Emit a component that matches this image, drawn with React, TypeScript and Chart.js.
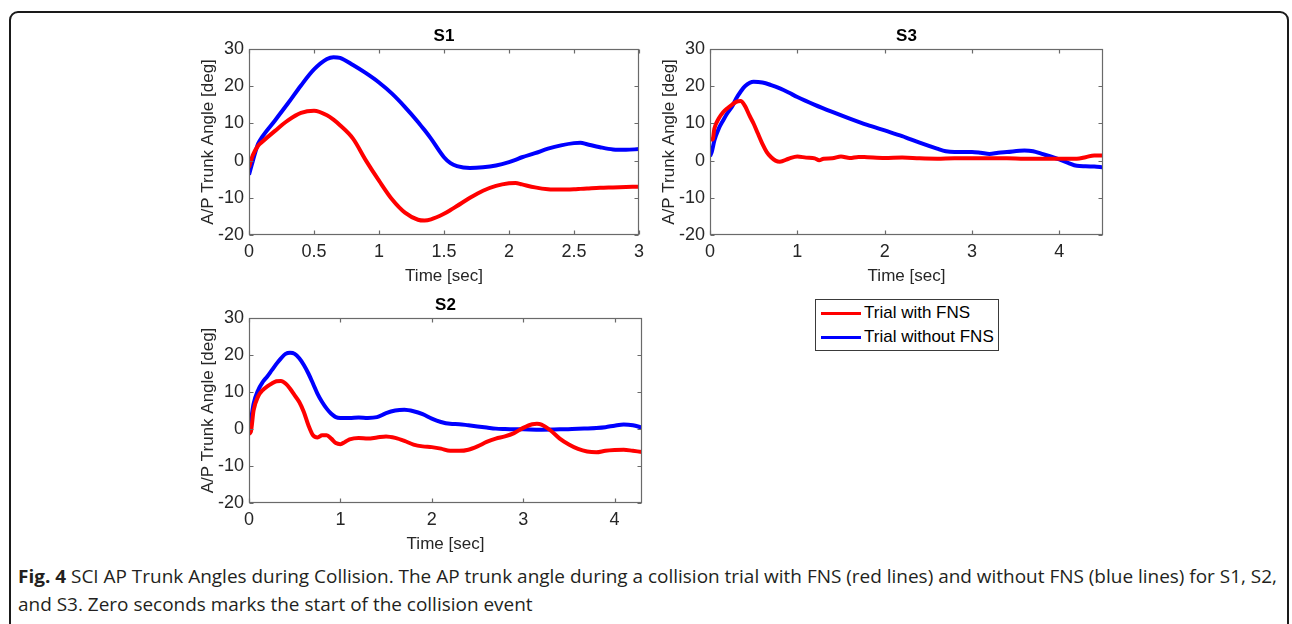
import React, { useEffect, useLayoutEffect, useRef } from 'react';
import { Chart, registerables } from 'chart.js';

Chart.register(...registerables);

// ---------- DATA ----------
const seriesLabels = ['Trial with FNS', 'Trial without FNS'];

// S1
const s1Time = [0, 0.03, 0.07, 0.1, 0.2, 0.3, 0.4, 0.5, 0.6, 0.65, 0.7, 0.8, 0.9, 1.0, 1.1, 1.2, 1.3, 1.35, 1.4, 1.5, 1.55, 1.6, 1.7, 1.8, 1.9, 2.0, 2.05, 2.1, 2.2, 2.3, 2.4, 2.5, 2.55, 2.6, 2.7, 2.8, 2.9, 3.0];
const s1WithFns = [-1.8, 1.5, 4, 5, 8, 10.8, 12.8, 13.4, 12.2, 11, 9.5, 5.9, 0, -5.4, -10.4, -14, -15.9, -16.1, -15.8, -14.3, -13.3, -12.2, -10, -8.1, -6.8, -6.1, -6, -6.4, -7.2, -7.7, -7.8, -7.7, -7.6, -7.5, -7.3, -7.2, -7.1, -7];
const s1WithoutFns = [-3.8, 0, 4.5, 6.3, 10.8, 15.4, 20.2, 24.5, 27.3, 27.8, 27.6, 25.7, 23.5, 21, 18, 14.4, 10.4, 8.2, 5.9, 0.9, -0.7, -1.5, -2, -1.8, -1.3, -0.4, 0.2, 0.9, 2, 3.2, 4.1, 4.7, 4.8, 4.4, 3.6, 3, 2.9, 3.1];

// S3
const s3TimeWith = [0, 0.03, 0.05, 0.1, 0.15, 0.2, 0.25, 0.3, 0.35, 0.4, 0.45, 0.5, 0.55, 0.6, 0.65, 0.7, 0.75, 0.8, 0.9, 1.0, 1.1, 1.2, 1.25, 1.3, 1.4, 1.5, 1.6, 1.7, 1.8, 2.0, 2.2, 2.4, 2.6, 2.8, 3.0, 3.2, 3.4, 3.6, 3.8, 4.0, 4.2, 4.3, 4.4, 4.5];
const s3WithFns = [5.7, 5.7, 8.6, 11.3, 13, 14.1, 15, 15.8, 16, 14.7, 12.2, 9.9, 7.2, 4.5, 2.3, 0.9, 0, -0.3, 0.5, 1.1, 0.8, 0.6, 0.1, 0.5, 0.6, 1.1, 0.7, 1, 0.9, 0.7, 0.8, 0.6, 0.5, 0.6, 0.6, 0.6, 0.6, 0.5, 0.5, 0.5, 0.5, 0.9, 1.4, 1.4];
const s3TimeWithout = [0, 0.02, 0.05, 0.1, 0.15, 0.2, 0.25, 0.3, 0.35, 0.4, 0.5, 0.6, 0.7, 0.8, 0.9, 1.0, 1.2, 1.4, 1.6, 1.8, 2.0, 2.2, 2.4, 2.6, 2.7, 2.8, 3.0, 3.1, 3.2, 3.3, 3.4, 3.6, 3.7, 3.8, 3.9, 4.0, 4.1, 4.2, 4.3, 4.4, 4.5];
const s3WithoutFns = [1.2, 2.3, 5.4, 8.6, 10.8, 12.8, 14.4, 16.7, 18.5, 20, 21.2, 21, 20.3, 19.4, 18.3, 17.1, 15, 13.1, 11.3, 9.6, 8.1, 6.6, 4.8, 3.2, 2.5, 2.3, 2.3, 2.1, 1.8, 2.1, 2.3, 2.7, 2.5, 1.8, 1.1, 0.3, -0.6, -1.4, -1.5, -1.6, -1.8];

// S2
const s2TimeWith = [0, 0.02, 0.05, 0.1, 0.15, 0.2, 0.25, 0.3, 0.35, 0.4, 0.45, 0.5, 0.55, 0.6, 0.65, 0.7, 0.75, 0.8, 0.85, 0.9, 0.95, 1.0, 1.05, 1.1, 1.2, 1.3, 1.4, 1.5, 1.6, 1.7, 1.8, 1.9, 2.0, 2.1, 2.2, 2.3, 2.4, 2.5, 2.6, 2.7, 2.8, 2.9, 3.0, 3.1, 3.15, 3.2, 3.3, 3.4, 3.5, 3.6, 3.7, 3.8, 3.9, 4.0, 4.1, 4.2, 4.3];
const s2WithFns = [-1.3, -0.8, 5, 8.8, 10.5, 11.5, 12.3, 12.9, 13, 12.3, 10.9, 9.1, 7.3, 4.6, 1, -1.7, -2.3, -1.7, -1.7, -2.6, -3.8, -4.1, -3.5, -2.8, -2.4, -2.6, -2.3, -2, -2.4, -3.2, -4.2, -4.7, -4.9, -5.3, -5.9, -5.9, -5.6, -4.7, -3.5, -2.6, -2, -1.1, 0.3, 1.3, 1.4, 1.2, -0.4, -2.6, -4.2, -5.4, -6.1, -6.3, -5.9, -5.7, -5.6, -5.9, -6.2];
const s2TimeWithout = [0, 0.02, 0.05, 0.1, 0.15, 0.2, 0.25, 0.3, 0.35, 0.4, 0.45, 0.5, 0.55, 0.6, 0.65, 0.7, 0.75, 0.8, 0.85, 0.9, 0.95, 1.0, 1.1, 1.2, 1.3, 1.4, 1.5, 1.6, 1.7, 1.8, 1.9, 2.0, 2.1, 2.2, 2.3, 2.4, 2.5, 2.6, 2.7, 2.8, 3.0, 3.2, 3.4, 3.6, 3.8, 3.9, 4.0, 4.1, 4.2, 4.3];
const s2WithoutFns = [1, 2.3, 6.8, 10.5, 12.7, 14.2, 15.9, 17.6, 19.1, 20.3, 20.6, 20.3, 19.1, 17.3, 15, 12.3, 9.5, 7.3, 5.5, 4.1, 3.2, 3, 3, 3.1, 3, 3.2, 4.3, 5, 5.2, 4.8, 4, 2.8, 1.9, 1.4, 1.3, 1, 0.7, 0.4, 0.1, 0, -0.1, -0.2, -0.1, 0.1, 0.3, 0.5, 0.9, 1.2, 1, 0.4];

// Ticks
const yTicks = [-20, -10, 0, 10, 20, 30];
const s1XTicks = [0, 0.5, 1, 1.5, 2, 2.5, 3];
const s3XTicks = [0, 1, 2, 3, 4];
const s2XTicks = [0, 1, 2, 3, 4];

// ---------- STYLE ----------
const RED = '#ff0000';
const BLUE = '#0000ff';
const AXIS_COLOR = '#262626';
const BOX_COLOR = '#6a6a6a';
const FONT = '"Liberation Sans", Arial, Helvetica, sans-serif';
const AX_W = 75;
const TITLE_H = 30;
const X_AX_H = 55;
const R_PAD = 15;
const TICK_LEN = 4;
const LINE_W = 4;

const boxPlugin = {
  id: 'matlabBox',
  afterDatasetsDraw(chart: any) {
    const { ctx, chartArea: a, scales } = chart;
    ctx.save();
    ctx.strokeStyle = BOX_COLOR;
    ctx.lineWidth = 1.2;
    const L = Math.round(a.left) + 0.5;
    const R = Math.round(a.right) - 0.5;
    const T = Math.round(a.top) + 0.5;
    const B = Math.round(a.bottom) - 0.5;
    ctx.strokeRect(L, T, R - L, B - T);
    ctx.beginPath();
    scales.x.ticks.forEach((t: any) => {
      const px = Math.round(scales.x.getPixelForValue(t.value)) + 0.5;
      ctx.moveTo(px, B);
      ctx.lineTo(px, B - TICK_LEN);
      ctx.moveTo(px, T);
      ctx.lineTo(px, T + TICK_LEN);
    });
    scales.y.ticks.forEach((t: any) => {
      const py = Math.round(scales.y.getPixelForValue(t.value)) + 0.5;
      ctx.moveTo(L, py);
      ctx.lineTo(L + TICK_LEN, py);
      ctx.moveTo(R, py);
      ctx.lineTo(R - TICK_LEN, py);
    });
    ctx.stroke();
    ctx.restore();
  },
};

type PanelProps = {
  title: string;
  t1: number[];
  v1: number[];
  t2: number[];
  v2: number[];
  xMax: number;
  xTicks: number[];
  plotLeft: number;
  plotTop: number;
  plotW: number;
  plotH: number;
};

function Panel(p: PanelProps) {
  const ref = useRef<HTMLCanvasElement>(null);
  const cw = AX_W + p.plotW + R_PAD;
  const ch = TITLE_H + p.plotH + X_AX_H;
  useEffect(() => {
    if (!ref.current) return;
    const mk = (t: number[], v: number[]) => t.map((x, i) => ({ x, y: v[i] }));
    const chart = new Chart(ref.current, {
      type: 'line',
      data: {
        datasets: [
          {
            label: seriesLabels[0],
            data: mk(p.t1, p.v1),
            borderColor: RED,
            backgroundColor: RED,
            borderWidth: LINE_W,
            pointRadius: 0,
            cubicInterpolationMode: 'monotone',
            fill: false,
          },
          {
            label: seriesLabels[1],
            data: mk(p.t2, p.v2),
            borderColor: BLUE,
            backgroundColor: BLUE,
            borderWidth: LINE_W,
            pointRadius: 0,
            cubicInterpolationMode: 'monotone',
            fill: false,
          },
        ],
      },
      options: {
        animation: false,
        responsive: false,
        maintainAspectRatio: false,
        devicePixelRatio: 1,
        layout: { padding: { left: 0, right: R_PAD, top: 0, bottom: 0 } },
        plugins: {
          legend: { display: false },
          tooltip: { enabled: false },
          title: {
            display: true,
            text: p.title,
            fullSize: false,
            color: '#000',
            font: { family: FONT, size: 17, weight: 'bold' },
            padding: { top: 7.5, bottom: 2.1 },
          },
        },
        scales: {
          x: {
            type: 'linear',
            min: 0,
            max: p.xMax,
            afterBuildTicks: (s: any) => {
              s.ticks = p.xTicks.map((v) => ({ value: v }));
            },
            afterFit: (s: any) => {
              s.height = X_AX_H;
            },
            grid: { display: false, drawTicks: false },
            border: { display: false },
            ticks: {
              autoSkip: false,
              maxRotation: 0,
              padding: 6,
              color: AXIS_COLOR,
              font: { family: FONT, size: 18 },
              callback: (v: any) => String(v),
            },
            title: {
              display: true,
              text: 'Time [sec]',
              color: AXIS_COLOR,
              font: { family: FONT, size: 17 },
              padding: { top: 0, bottom: 3 },
            },
          },
          y: {
            type: 'linear',
            min: -20,
            max: 30,
            afterBuildTicks: (s: any) => {
              s.ticks = yTicks.map((v) => ({ value: v }));
            },
            afterFit: (s: any) => {
              s.width = AX_W;
            },
            grid: { display: false, drawTicks: false },
            border: { display: false },
            ticks: {
              autoSkip: false,
              padding: 5,
              color: AXIS_COLOR,
              font: { family: FONT, size: 18 },
              callback: (v: any) => String(v),
            },
            title: {
              display: true,
              text: 'A/P Trunk Angle [deg]',
              color: AXIS_COLOR,
              font: { family: FONT, size: 17 },
              padding: { top: 24, bottom: 0 },
            },
          },
        },
      } as any,
      plugins: [boxPlugin],
    });
    return () => chart.destroy();
  }, []);
  return (
    <canvas
      ref={ref}
      width={cw}
      height={ch}
      style={{
        position: 'absolute',
        left: p.plotLeft - AX_W,
        top: p.plotTop - TITLE_H,
        width: cw,
        height: ch,
      }}
    />
  );
}

function Legend() {
  const row = (color: string, label: string, top: number) => (
    <div style={{ position: 'absolute', left: 5, top, height: 22, display: 'flex', alignItems: 'center' }}>
      <div style={{ width: 40, height: 3, background: color }} />
      <span style={{ marginLeft: 3, fontFamily: FONT, fontSize: 17, color: '#000', whiteSpace: 'nowrap' }}>{label}</span>
    </div>
  );
  return (
    <div
      style={{
        position: 'absolute',
        left: 815,
        top: 299,
        width: 182,
        height: 50,
        border: '1px solid #3a3a3a',
        background: '#fff',
      }}
    >
      {row(RED, seriesLabels[0], 2)}
      {row(BLUE, seriesLabels[1], 26)}
    </div>
  );
}

export default function App() {
  const line1Ref = useRef<HTMLSpanElement>(null);
  const capRef = useRef<HTMLDivElement>(null);
  useLayoutEffect(() => {
    if (line1Ref.current && capRef.current) {
      const w = line1Ref.current.getBoundingClientRect().width;
      if (w > 0) {
        capRef.current.style.transform = `scaleX(${1259 / w})`;
      }
    }
  }, []);
  return (
    <div
      style={{
        position: 'absolute',
        left: 0,
        top: 0,
        width: 1292,
        height: 624,
        overflow: 'hidden',
        background: '#fff',
      }}
    >
      <div
        style={{
          position: 'absolute',
          left: 9,
          top: 11,
          width: 1280,
          height: 700,
          border: '2px solid #1a1a1a',
          borderRadius: 9,
          boxSizing: 'border-box',
        }}
      />
      <Panel title="S1" t1={s1Time} v1={s1WithFns} t2={s1Time} v2={s1WithoutFns} xMax={3} xTicks={s1XTicks} plotLeft={249} plotTop={49} plotW={390} plotH={186} />
      <Panel title="S3" t1={s3TimeWith} v1={s3WithFns} t2={s3TimeWithout} v2={s3WithoutFns} xMax={4.5} xTicks={s3XTicks} plotLeft={710} plotTop={49} plotW={393} plotH={186} />
      <Panel title="S2" t1={s2TimeWith} v1={s2WithFns} t2={s2TimeWithout} v2={s2WithoutFns} xMax={4.3} xTicks={s2XTicks} plotLeft={249} plotTop={318} plotW={393} plotH={185} />
      <Legend />
      <div
        ref={capRef}
        style={{
          position: 'absolute',
          left: 18,
          top: 562,
          fontFamily: '"Open Sans", "Noto Sans", sans-serif',
          fontSize: 18.5,
          lineHeight: '28px',
          color: '#231f20',
          whiteSpace: 'nowrap',
          transformOrigin: 'left top',
        }}
      >
        <span ref={line1Ref}>
          <b>Fig. 4</b> SCI AP Trunk Angles during Collision. The AP trunk angle during a collision trial with FNS (red lines) and without FNS (blue lines) for S1, S2,
        </span>
        <br />
        <span>and S3. Zero seconds marks the start of the collision event</span>
      </div>
    </div>
  );
}
